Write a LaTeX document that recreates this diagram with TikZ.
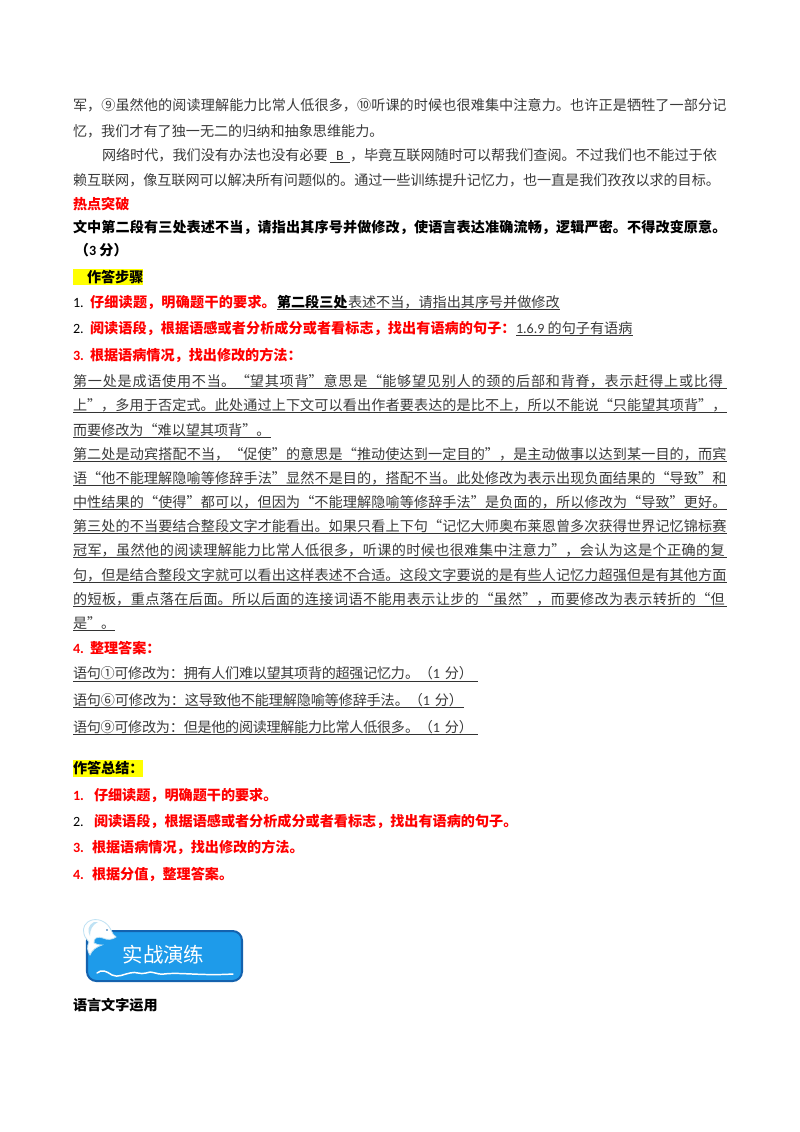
\documentclass[tikz,border=0pt]{standalone}
\usepackage{fontspec}
\setmainfont{Noto Sans CJK SC}
\newfontfamily\carl{Carlito}
\usetikzlibrary{calc}
\XeTeXlinebreaklocale "zh"
\XeTeXlinebreakskip=0pt plus 4pt minus 0.6pt
\definecolor{bodyc}{HTML}{3A3A3A}
\definecolor{redc}{HTML}{FF0000}
\definecolor{hl}{HTML}{FFFF00}
\definecolor{btn}{HTML}{1E9BEA}
\definecolor{btnb}{HTML}{1462AE}
\definecolor{dolph}{HTML}{BFE2F4}
\newlength{\pxu}\setlength{\pxu}{0.744pt}
% justified one-line text: x, baseline y, width, name, text
\newcommand{\jl}[6][bodyc]{\node[txt,text=#1,anchor=base west,text width=#4\pxu] (#5) at (#2,#3) {\tolerance=10000\hbadness=10000\hfuzz=30pt\parfillskip=0pt\relax #6\par};}
\newcommand{\nl}[6][bodyc]{\node[txt,text=#1,anchor=base west,#4] (#5) at (#2,#3) {#6};}
\newcommand{\ul}[3]{\draw[ulstyle] (#1,#3) -- (#2,#3);}
\begin{document}
\begin{tikzpicture}[x=0.744pt,y=-0.744pt,
  txt/.style={inner sep=0pt,outer sep=0pt,font=\fontsize{10.5pt}{12pt}\selectfont},
  ulstyle/.style={draw=black!80,line width=0.7pt},
  hlbox/.style={fill=hl,draw=none}]
\useasboundingbox[fill=white] (0,0) rectangle (800,1132);
% scanned passage
\jl{73}{110}{654}{a1}{军，⑨虽然他的阅读理解能力比常人低很多，⑩听课的时候也很难集中注意力。也许正是牺牲了一部分记}
\nl{73}{136}{}{a2}{忆，我们才有了独一无二的归纳和抽象思维能力。}
\nl{102}{160}{}{a3}{网络时代，我们没有办法也没有必要}
\nl{336}{160}{}{a3b}{\carl B}
\nl{350}{160}{}{a3c}{，毕竟互联网随时可以帮我们查阅。不过我们也不能过于依}
\ul{330}{350}{162}
\jl{73}{185}{647}{a4}{赖互联网，像互联网可以解决所有问题似的。通过一些训练提升记忆力，也一直是我们孜孜以求的目标。}
\nl[redc]{73}{209}{font=\fontsize{10.5pt}{12pt}\selectfont\bfseries}{b1}{热点突破}
\jl[black]{73}{232}{654}{b2}{\bfseries 文中第二段有三处表述不当，请指出其序号并做修改，使语言表达准确流畅，逻辑严密。不得改变原意。}
\nl[black]{75}{255}{font=\fontsize{10.5pt}{12pt}\selectfont\bfseries}{b3}{（{\carl 3} 分）}
% steps
\fill[hlbox] (73,269) rectangle (143,285);
\nl[black]{87}{282}{font=\fontsize{10.5pt}{12pt}\selectfont\bfseries}{c0}{作答步骤}
\nl[black]{73}{307}{}{c1n}{\carl 1.}
\jl[redc]{90}{307}{187}{c1}{\bfseries 仔细读题，明确题干的要求。}
\nl[black]{277}{307}{font=\fontsize{10.5pt}{12pt}\selectfont\bfseries}{c1b}{第二段三处}
\nl{348}{307}{}{c1c}{表述不当，请指出其序号并做修改}
\ul{277}{560}{309}
\nl[black]{73}{333}{}{c2n}{\carl 2.}
\jl[redc]{90}{333}{426}{c2}{\bfseries 阅读语段，根据语感或者分析成分或者看标志，找出有语病的句子：}
\nl{516}{333}{}{c2b}{{\carl 1.6.9} 的句子有语病}
\ul{516}{633}{335}
\nl[redc]{73}{360}{font=\fontsize{10.5pt}{12pt}\selectfont\bfseries}{c3n}{\carl\bfseries 3.}
\nl[redc]{90}{360}{font=\fontsize{10.5pt}{12pt}\selectfont\bfseries}{c3}{根据语病情况，找出修改的方法：}
% explanation
\jl{73}{386}{654}{d1}{第一处是成语使用不当。“望其项背”意思是“能够望见别人的颈的后部和背脊，表示赶得上或比得}
\ul{73}{727}{388}
\jl{73}{410}{654}{d2}{上”，多用于否定式。此处通过上下文可以看出作者要表达的是比不上，所以不能说“只能望其项背”，}
\ul{73}{727}{412}
\nl{73}{435}{}{d3}{而要修改为“难以望其项背”。}
\ul{73}{271}{437}
\jl{73}{459}{654}{d4}{第二处是动宾搭配不当，“促使”的意思是“推动使达到一定目的”，是主动做事以达到某一目的，而宾}
\ul{73}{727}{461}
\jl{73}{483}{654}{d5}{语“他不能理解隐喻等修辞手法”显然不是目的，搭配不当。此处修改为表示出现负面结果的“导致”和}
\ul{73}{727}{485}
\jl{73}{507}{654}{d6}{中性结果的“使得”都可以，但因为“不能理解隐喻等修辞手法”是负面的，所以修改为“导致”更好。}
\ul{73}{727}{509}
\jl{73}{531}{654}{d7}{第三处的不当要结合整段文字才能看出。如果只看上下句“记忆大师奥布莱恩曾多次获得世界记忆锦标赛}
\ul{73}{727}{533}
\jl{73}{555}{654}{d8}{冠军，虽然他的阅读理解能力比常人低很多，听课的时候也很难集中注意力”，会认为这是个正确的复}
\ul{73}{727}{557}
\jl{73}{580}{654}{d9}{句，但是结合整段文字就可以看出这样表述不合适。这段文字要说的是有些人记忆力超强但是有其他方面}
\ul{73}{727}{582}
\jl{73}{604}{654}{d10}{的短板，重点落在后面。所以后面的连接词语不能用表示让步的“虽然”，而要修改为表示转折的“但}
\ul{73}{727}{606}
\nl{73}{628}{}{d11}{是”。}
\ul{73}{115}{630}
% answers
\nl[redc]{73}{653}{font=\fontsize{10.5pt}{12pt}\selectfont\bfseries}{e0n}{\carl\bfseries 4.}
\nl[redc]{90}{653}{font=\fontsize{10.5pt}{12pt}\selectfont\bfseries}{e0}{整理答案：}
\jl{73}{678}{400}{e1}{语句①可修改为：拥有人们难以望其项背的超强记忆力。（{\carl 1} 分）}
\ul{73}{478}{681}
\jl{73}{705}{390}{e2}{语句⑥可修改为：这导致他不能理解隐喻等修辞手法。（{\carl 1} 分）}
\ul{73}{464}{707}
\jl{73}{732}{400}{e3}{语句⑨可修改为：但是他的阅读理解能力比常人低很多。（{\carl 1} 分）}
\ul{73}{478}{734}
% summary
\fill[hlbox] (73,760) rectangle (143,777);
\nl[black]{73}{773}{font=\fontsize{10.5pt}{12pt}\selectfont\bfseries}{f0}{作答总结：}
\nl[redc]{73}{800}{font=\fontsize{10.5pt}{12pt}\selectfont\bfseries}{f1n}{\carl\bfseries 1.}
\nl[redc]{94}{800}{font=\fontsize{10.5pt}{12pt}\selectfont\bfseries}{f1}{仔细读题，明确题干的要求。}
\nl[black]{73}{826}{}{f2n}{\carl 2.}
\nl[redc]{94}{826}{font=\fontsize{10.5pt}{12pt}\selectfont\bfseries}{f2}{阅读语段，根据语感或者分析成分或者看标志，找出有语病的句子。}
\nl[redc]{73}{852}{font=\fontsize{10.5pt}{12pt}\selectfont\bfseries}{f3n}{\carl\bfseries 3.}
\nl[redc]{92}{852}{font=\fontsize{10.5pt}{12pt}\selectfont\bfseries}{f3}{根据语病情况，找出修改的方法。}
\nl[redc]{73}{879}{font=\fontsize{10.5pt}{12pt}\selectfont\bfseries}{f4n}{\carl\bfseries 4.}
\nl[redc]{92}{879}{font=\fontsize{10.5pt}{12pt}\selectfont\bfseries}{f4}{根据分值，整理答案。}
% button
\draw[fill=btn,draw=btnb,line width=1.5pt,rounded corners=7pt] (87,931) rectangle (242,981);
\draw[white,line width=1.1pt,line cap=round] (97,973) .. controls (102,969) and (106,971) .. (112,975)
  .. controls (118,978) and (124,974) .. (130,973) .. controls (136,971) and (140,975) .. (146,973)
  .. controls (152,970) and (156,975) .. (164,974) .. controls (180,972) and (200,976) .. (233,974);
\node[inner sep=0pt,text=white,font=\fontsize{15.2pt}{18pt}\selectfont] (btntxt) at (163.5,955) {实战演练};
% dolphin
\draw[fill=white,draw=dolph,line width=0.6pt] (116,937)
  .. controls (113,936) and (113,933) .. (111,930)
  .. controls (108,923) and (100,918) .. (92,920)
  .. controls (85,922) and (82,928) .. (84,934)
  .. controls (85,938) and (87,939) .. (89,942)
  .. controls (87,946) and (87,951) .. (90,955)
  .. controls (92,950) and (96,947) .. (102,945)
  .. controls (98,945) and (96,944) .. (94,943)
  .. controls (93,938) and (98,936) .. (103,938)
  .. controls (107,940) and (112,940) .. (116,937) -- cycle;
\fill[dolph] (94,922) .. controls (88,925) and (87,931) .. (90,936) .. controls (90,930) and (92,925) .. (98,922) -- cycle;
\fill[btnb] (107,930) circle (0.8);
\nl[black]{73}{1010}{font=\fontsize{10.5pt}{12pt}\selectfont\bfseries}{g0}{语言文字运用}
\end{tikzpicture}
\end{document}
